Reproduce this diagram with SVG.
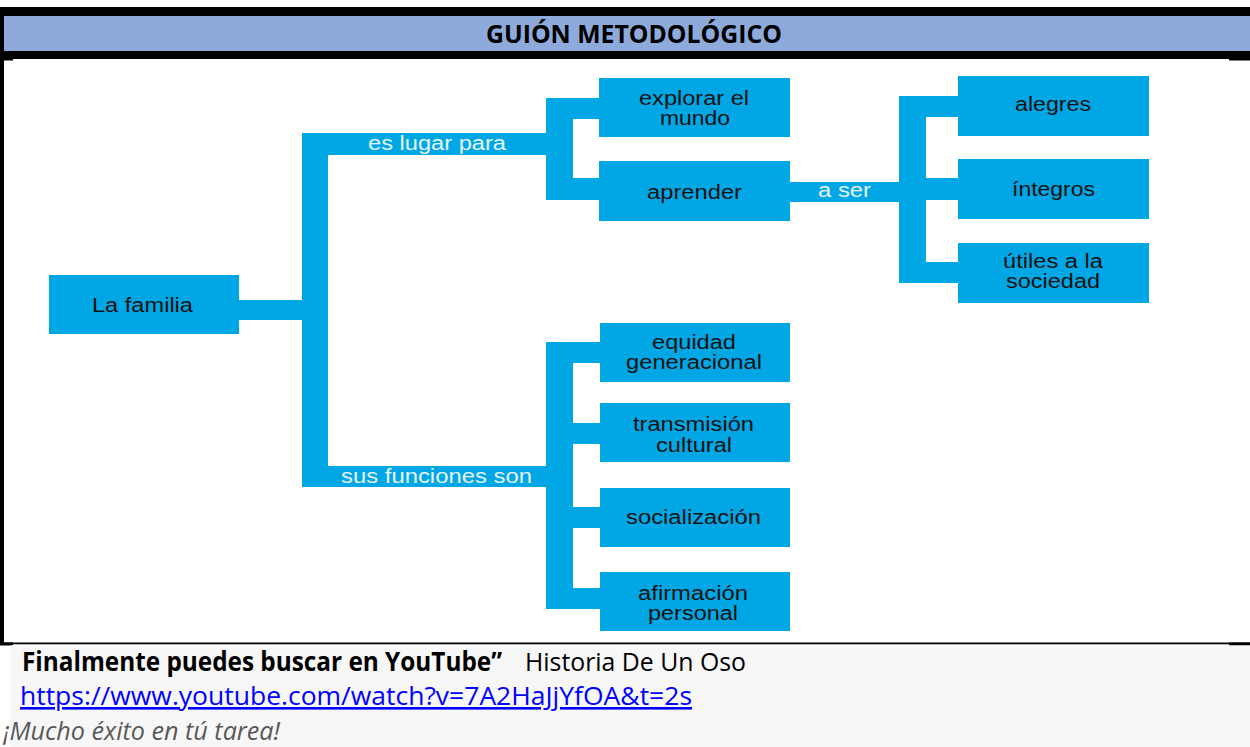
<svg xmlns="http://www.w3.org/2000/svg" width="1250" height="747" viewBox="0 0 1250 747">
  <style>
    .box { fill: #00A7E4; }
    .bar { fill: #00A7E4; }
    .nt { font-family: "Liberation Sans", Arial, sans-serif; font-size: 20px; fill: #111; text-anchor: middle; }
    .lt { font-family: "Liberation Sans", Arial, sans-serif; font-size: 20px; fill: #E6F5FC; text-anchor: middle; }
    .hd { font-family: "Open Sans", "Noto Sans", sans-serif; font-weight: bold; font-size: 25px; fill: #000; text-anchor: middle; }
    .ft { font-family: "Open Sans", "Noto Sans", sans-serif; font-size: 26px; }
  </style>
  <rect x="0" y="0" width="1250" height="747" fill="#ffffff"/>
  <!-- header -->
  <g id="header">
    <rect x="0" y="7" width="1250" height="52" fill="#000"/>
    <rect x="4" y="16" width="1246" height="35" fill="#8EAADB"/>
    <rect x="1229" y="59" width="21" height="1.5" fill="#000"/>
    <rect x="0" y="59" width="13" height="1.5" fill="#000"/>
    <text class="hd" x="634" y="43" textLength="296" lengthAdjust="spacingAndGlyphs">GUIÓN METODOLÓGICO</text>
  </g>
  <!-- frame -->
  <g id="frame">
    <rect x="0" y="59" width="4" height="586" fill="#000"/>
    <rect x="0" y="642.5" width="1250" height="1.8" fill="#000"/>
    <rect x="0" y="642.5" width="13" height="3" fill="#000"/>
    <rect x="1229" y="642.5" width="21" height="3" fill="#000"/>
    <rect x="10" y="645.5" width="1240" height="101.5" fill="#F7F7F7"/>
  </g>
  <!-- connectors -->
  <g id="connectors">
    <rect class="bar" x="239" y="300" width="64" height="20"/>
    <rect class="bar" x="302" y="133" width="26" height="354"/>
    <rect class="bar" x="327" y="133" width="220" height="22"/>
    <rect class="bar" x="327" y="466" width="220" height="21"/>
    <!-- upper bracket -->
    <rect class="bar" x="546" y="98" width="27" height="102"/>
    <rect class="bar" x="572" y="98" width="28" height="21"/>
    <rect class="bar" x="572" y="178" width="28" height="22"/>
    <!-- a ser -->
    <rect class="bar" x="789" y="182" width="111" height="20"/>
    <rect class="bar" x="899" y="96" width="27" height="187"/>
    <rect class="bar" x="925" y="96" width="34" height="21"/>
    <rect class="bar" x="925" y="178" width="34" height="22"/>
    <rect class="bar" x="925" y="262" width="34" height="21"/>
    <!-- lower bracket -->
    <rect class="bar" x="546" y="342" width="27" height="267"/>
    <rect class="bar" x="572" y="342" width="28" height="21"/>
    <rect class="bar" x="572" y="423" width="28" height="21"/>
    <rect class="bar" x="572" y="507" width="28" height="21"/>
    <rect class="bar" x="572" y="588" width="28" height="21"/>
    <text class="lt" x="437" y="150" textLength="138" lengthAdjust="spacingAndGlyphs">es lugar para</text>
    <text class="lt" x="436.5" y="483" textLength="191" lengthAdjust="spacingAndGlyphs">sus funciones son</text>
    <text class="lt" x="844.5" y="197" textLength="53" lengthAdjust="spacingAndGlyphs">a ser</text>
  </g>
  <!-- nodes -->
  <g id="la-familia">
    <rect class="box" x="49" y="275" width="190" height="59"/>
    <text class="nt" x="142.5" y="312" textLength="101" lengthAdjust="spacingAndGlyphs">La familia</text>
  </g>
  <g id="explorar">
    <rect class="box" x="599" y="78" width="191" height="59"/>
    <text class="nt" x="694" y="105" textLength="110" lengthAdjust="spacingAndGlyphs">explorar el</text>
    <text class="nt" x="695" y="125" textLength="70" lengthAdjust="spacingAndGlyphs">mundo</text>
  </g>
  <g id="aprender">
    <rect class="box" x="599" y="161" width="191" height="60"/>
    <text class="nt" x="694.5" y="199" textLength="95" lengthAdjust="spacingAndGlyphs">aprender</text>
  </g>
  <g id="alegres">
    <rect class="box" x="958" y="76" width="191" height="60"/>
    <text class="nt" x="1053" y="111" textLength="76" lengthAdjust="spacingAndGlyphs">alegres</text>
  </g>
  <g id="integros">
    <rect class="box" x="958" y="159" width="191" height="60"/>
    <text class="nt" x="1053.5" y="196" textLength="83" lengthAdjust="spacingAndGlyphs">íntegros</text>
  </g>
  <g id="utiles">
    <rect class="box" x="958" y="243" width="191" height="60"/>
    <text class="nt" x="1053" y="268" textLength="100" lengthAdjust="spacingAndGlyphs">útiles a la</text>
    <text class="nt" x="1053" y="288" textLength="94" lengthAdjust="spacingAndGlyphs">sociedad</text>
  </g>
  <g id="equidad">
    <rect class="box" x="600" y="323" width="190" height="59"/>
    <text class="nt" x="694" y="349" textLength="84" lengthAdjust="spacingAndGlyphs">equidad</text>
    <text class="nt" x="694" y="369" textLength="136" lengthAdjust="spacingAndGlyphs">generacional</text>
  </g>
  <g id="transmision">
    <rect class="box" x="600" y="403" width="190" height="59"/>
    <text class="nt" x="693.5" y="431" textLength="121" lengthAdjust="spacingAndGlyphs">transmisión</text>
    <text class="nt" x="694" y="452" textLength="76" lengthAdjust="spacingAndGlyphs">cultural</text>
  </g>
  <g id="socializacion">
    <rect class="box" x="600" y="488" width="190" height="59"/>
    <text class="nt" x="693.5" y="524" textLength="135" lengthAdjust="spacingAndGlyphs">socialización</text>
  </g>
  <g id="afirmacion">
    <rect class="box" x="600" y="572" width="190" height="59"/>
    <text class="nt" x="693" y="600" textLength="110" lengthAdjust="spacingAndGlyphs">afirmación</text>
    <text class="nt" x="693" y="620" textLength="90" lengthAdjust="spacingAndGlyphs">personal</text>
  </g>
  <!-- footer text -->
  <g id="footer">
    <text class="ft" x="22" y="671" font-weight="bold" fill="#000" textLength="480" lengthAdjust="spacingAndGlyphs">Finalmente puedes buscar en YouTube”</text>
    <text class="ft" x="525" y="671" fill="#000" textLength="221" lengthAdjust="spacingAndGlyphs">Historia De Un Oso</text>
    <text class="ft" x="20" y="705" fill="#0000FF" text-decoration="underline" textLength="672" lengthAdjust="spacingAndGlyphs">https://www.youtube.com/watch?v=7A2HaJjYfOA&amp;t=2s</text>
    <text class="ft" x="3" y="740" font-style="italic" fill="#595959" textLength="277" lengthAdjust="spacingAndGlyphs">¡Mucho éxito en tú tarea!</text>
  </g>
</svg>
